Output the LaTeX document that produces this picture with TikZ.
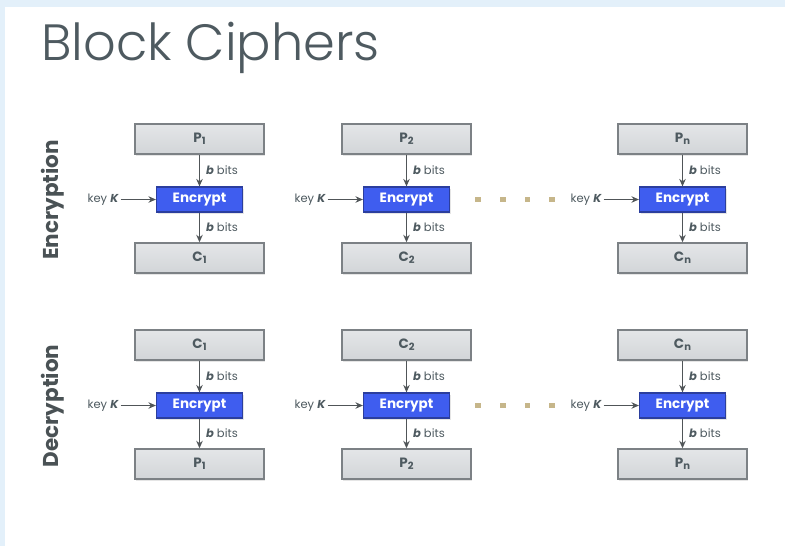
\documentclass[tikz,border=0pt]{standalone}
\usepackage{fontspec}
\setmainfont{Poppins}
\newfontfamily\titlefont{Poppins Light}
\usetikzlibrary{arrows.meta,shadows}
\definecolor{bgblue}{HTML}{E3F0FA}
\definecolor{titlegray}{HTML}{4E5A60}
\definecolor{boxtop}{HTML}{E4E6E8}
\definecolor{boxbot}{HTML}{D2D5D8}
\definecolor{boxline}{HTML}{7C8185}
\definecolor{encfill}{HTML}{3F5DEF}
\definecolor{encline}{HTML}{2B3E9E}
\definecolor{arrgray}{HTML}{505558}
\definecolor{dotcol}{HTML}{C6B68A}
\definecolor{sidegray}{HTML}{4A5255}
\newcommand\sbs[1]{\raisebox{-0.3ex}{\fontsize{10}{11}\selectfont #1}}
\newcommand\blockcell[5]{%
  \node[graybox] (#1t) at (#2,#3) {#4};
  \node[encbox] (#1e) at (#2,#3+60.5) {Encrypt};
  \node[graybox] (#1b) at (#2,#3+119) {#5};
  \node[keylab, anchor=east] (#1k) at (#2-79,#3+60.5) {key \textbf{\textit{K}}};
  \draw[arr] (#1t) -- (#1e) node[midway, right, lab] {\textbf{\textit{b}} bits};
  \draw[arr] (#1e) -- (#1b) node[midway, right, lab] {\textbf{\textit{b}} bits};
  \draw[arr] (#1k) -- (#1e);
}
\begin{document}
\begin{tikzpicture}[x=1pt,y=-1pt,
  graybox/.style={draw=boxline, line width=1.4pt, top color=boxtop, bottom color=boxbot, drop shadow={opacity=0.2, shadow xshift=1pt, shadow yshift=-1.5pt}, minimum width=129pt, minimum height=30pt, inner sep=0pt, font=\fontsize{13.5}{15}\selectfont\bfseries, text=titlegray},
  encbox/.style={draw=encline, line width=1.2pt, fill=encfill, drop shadow={opacity=0.2, shadow xshift=1pt, shadow yshift=-1.5pt}, minimum width=86pt, minimum height=25pt, inner sep=0pt, font=\fontsize{13.5}{15}\selectfont\bfseries, text=white},
  keylab/.style={font=\fontsize{11.5}{13}\selectfont, text=titlegray, inner sep=1.5pt},
  lab/.style={font=\fontsize{11.5}{13}\selectfont, text=titlegray, inner sep=0pt, xshift=6pt},
  arr/.style={draw=arrgray, line width=1.2pt, -{Stealth[length=7.5pt,width=6.5pt]}},
  sq/.style={fill=dotcol, minimum size=5.5pt, inner sep=0pt},
  side/.style={rotate=90, font=\fontsize{21.5}{24}\selectfont\bfseries, text=sidegray}]
\useasboundingbox (0,0) rectangle (785,546);
\fill[white] (0,0) rectangle (785,546);
\fill[bgblue] (0,0) rectangle (785,7);
\fill[bgblue] (0,0) rectangle (5,546);
\node[anchor=base west, inner sep=0pt, text=titlegray, font=\fontsize{51}{56}\selectfont\titlefont] (title) at (41,60) {Block Ciphers};
\node[side] (encl) at (53,200) {Encryption};
\node[side] (decl) at (53,406) {Decryption};
\blockcell{ea}{199.5}{139}{P\sbs{1}}{C\sbs{1}}
\blockcell{eb}{406.5}{139}{P\sbs{2}}{C\sbs{2}}
\blockcell{en}{682.5}{139}{P\sbs{n}}{C\sbs{n}}
\blockcell{da}{199.5}{345}{C\sbs{1}}{P\sbs{1}}
\blockcell{db}{406.5}{345}{C\sbs{2}}{P\sbs{2}}
\blockcell{dn}{682.5}{345}{C\sbs{n}}{P\sbs{n}}
\foreach \xx [count=\i] in {478,503,527.5,552}{
  \node[sq] (ed\i) at (\xx,199.5) {};
  \node[sq] (dd\i) at (\xx,405.5) {};
}
\end{tikzpicture}
\end{document}
